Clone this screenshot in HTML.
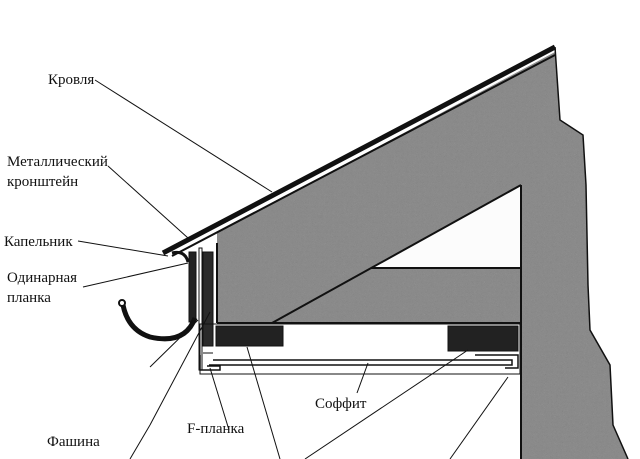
<!DOCTYPE html>
<html><head><meta charset="utf-8"><style>
body{margin:0;background:#fff}
svg{display:block}
text{font-family:"Liberation Serif",serif;font-size:15px;fill:#111}
</style></head><body>
<svg width="640" height="459" viewBox="0 0 640 459">
<defs><filter id="n"><feTurbulence baseFrequency="0.9" numOctaves="2" seed="3"/><feColorMatrix type="saturate" values="0"/><feComponentTransfer><feFuncA type="linear" slope="0.25"/></feComponentTransfer><feComposite in2="SourceGraphic" operator="in"/></filter></defs>
<polygon points="217,233 555,52 560,120 583,135 586,185 588,285 590,330 610,365 613,425 628,459 521,459 521,323 217,323" fill="#8a8a8a"/>
<polygon points="217,233 555,52 560,120 583,135 586,185 588,285 590,330 610,365 613,425 628,459 521,459 521,323 217,323" fill="#000" filter="url(#n)"/>
<polyline points="555,47 560,120 583,135 586,185 588,285 590,330 610,365 613,425 628,459" fill="none" stroke="#111" stroke-width="1.5"/>
<polygon points="371,268 521,185 521,268" fill="#fcfcfc"/>
<g stroke="#111" fill="none">
<line x1="272" y1="323" x2="521" y2="185" stroke-width="2"/>
<line x1="371" y1="268" x2="521" y2="268" stroke-width="2"/>
<line x1="217" y1="323" x2="521" y2="323" stroke-width="2"/>
<line x1="521" y1="185" x2="521" y2="459" stroke-width="2"/>
<line x1="217" y1="243" x2="217" y2="323" stroke-width="2"/>
<line x1="163" y1="253" x2="555" y2="47" stroke-width="5"/>
<line x1="172" y1="256" x2="555" y2="55" stroke-width="2"/>
<!-- fascia -->
<rect x="203" y="252" width="10" height="94" fill="#2a2a2a" stroke-width="1"/>
<rect x="199" y="248" width="3" height="122" fill="none" stroke-width="1"/>
<!-- blocks -->
<rect x="216" y="326" width="67" height="20" fill="#222"/>
<rect x="448" y="326" width="70" height="25" fill="#222"/>
<rect x="200" y="324" width="320" height="50" stroke-width="1"/>
<!-- soffit -->
<polyline points="213,360 512,360 512,365 209,365" stroke-width="1.5"/>
<polyline points="203,353 213,353 M203,353" stroke-width="1"/>
<polyline points="200,355 200,370 220,370 220,366 207,366" stroke-width="1.5"/>
<polyline points="475,355 518,355 518,368 505,368" stroke-width="1.5"/>
<!-- gutter -->
<rect x="189" y="252" width="7" height="70" fill="#222" stroke-width="1"/>
<path d="M195,318 Q185,345 150,337 Q128,330 123,305" stroke-width="5"/>
<circle cx="122" cy="303" r="3" stroke-width="2"/>
<path d="M172,253 Q185,250 188,262" stroke-width="3"/>
<!-- leaders -->
<g stroke-width="1">
<line x1="95" y1="80" x2="272" y2="192"/>
<line x1="108" y1="166" x2="188" y2="238"/>
<line x1="78" y1="241" x2="168" y2="256"/>
<line x1="83" y1="287" x2="188" y2="263"/>
<line x1="150" y1="367" x2="198" y2="320"/>
<line x1="150" y1="425" x2="210" y2="312"/>
<line x1="130" y1="459" x2="150" y2="425"/>
<line x1="229" y1="430" x2="210" y2="368"/>
<line x1="357" y1="393" x2="368" y2="363"/>
<line x1="280" y1="459" x2="247" y2="347"/>
<line x1="305" y1="459" x2="468" y2="350"/>
<line x1="450" y1="459" x2="508" y2="377"/>
</g>
</g>
<text x="48" y="84">Кровля</text>
<text x="7" y="166">Металлический</text>
<text x="7" y="186">кронштейн</text>
<text x="4" y="246">Капельник</text>
<text x="7" y="282">Одинарная</text>
<text x="7" y="302">планка</text>
<text x="47" y="446">Фашина</text>
<text x="187" y="433">F-планка</text>
<text x="315" y="408">Соффит</text>
</svg>
</body></html>
